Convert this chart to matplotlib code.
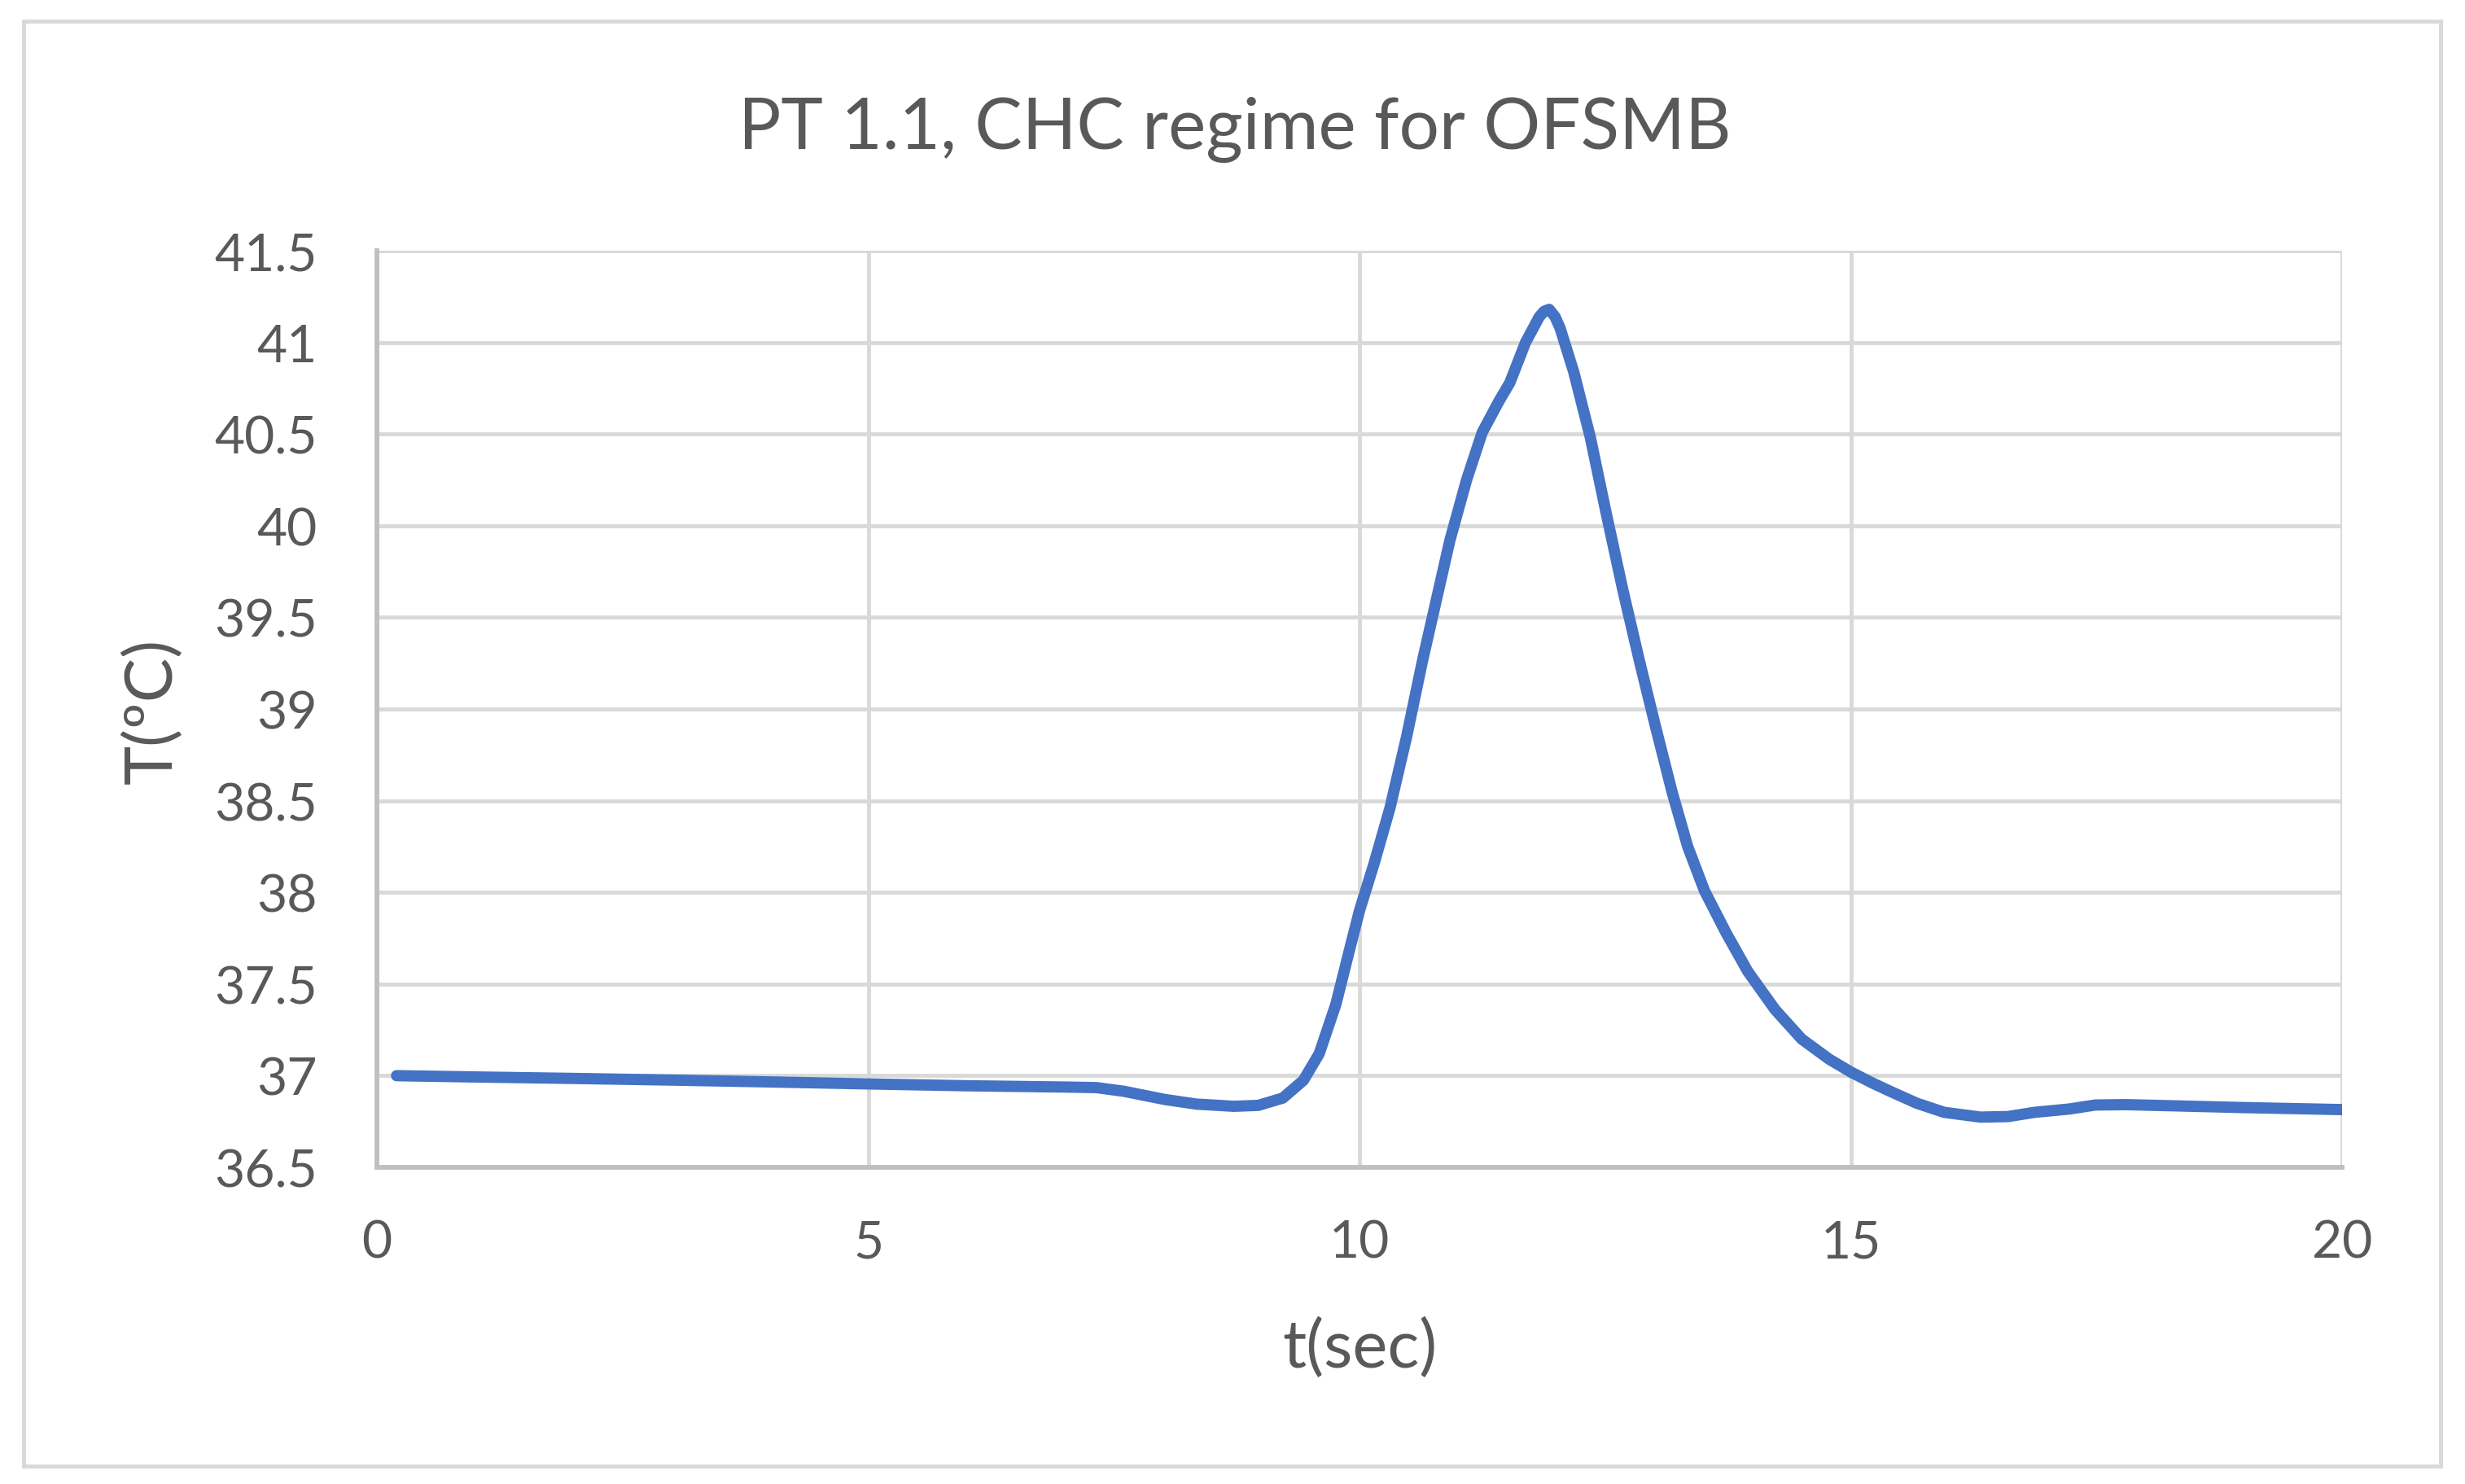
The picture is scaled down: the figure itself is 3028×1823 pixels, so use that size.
import matplotlib
matplotlib.use("Agg")
import matplotlib.pyplot as plt
from matplotlib.patches import Rectangle

plt.rcParams['font.family'] = ['Lato', 'DejaVu Sans']

# ---- data ----
t_sec = [0.2, 1, 2, 3, 4, 5, 6, 7, 7.32, 7.6, 8.02, 8.34, 8.72, 8.97, 9.22,
         9.43, 9.59, 9.76, 9.90, 10.0, 10.15, 10.31, 10.48, 10.64, 10.78, 10.92,
         11.09, 11.25, 11.42, 11.53, 11.69, 11.83, 11.88, 11.93, 11.99, 12.04,
         12.18, 12.35, 12.51, 12.68, 12.85, 13.01, 13.18, 13.34, 13.51, 13.73,
         13.95, 14.23, 14.50, 14.78, 15.0, 15.22, 15.40, 15.67, 15.95, 16.32,
         16.60, 16.87, 17.22, 17.49, 17.8, 18.25, 19, 20]
temp_c = [37.00, 36.993, 36.985, 36.976, 36.966, 36.955, 36.945, 36.938, 36.935,
          36.915, 36.87, 36.845, 36.833, 36.838, 36.878, 36.975, 37.12, 37.39,
          37.69, 37.90, 38.16, 38.46, 38.85, 39.26, 39.59, 39.92, 40.25, 40.51,
          40.68, 40.78, 41.00, 41.14, 41.17, 41.18, 41.14, 41.08, 40.84, 40.48,
          40.07, 39.65, 39.26, 38.91, 38.55, 38.25, 38.01, 37.78, 37.57, 37.36,
          37.20, 37.09, 37.02, 36.96, 36.915, 36.85, 36.80, 36.774, 36.777,
          36.80, 36.818, 36.84, 36.842, 36.836, 36.826, 36.815]
x_ticks = [0, 5, 10, 15, 20]
y_ticks = [36.5, 37, 37.5, 38, 38.5, 39, 39.5, 40, 40.5, 41, 41.5]
y_tick_labels = ['36.5', '37', '37.5', '38', '38.5', '39', '39.5', '40', '40.5', '41', '41.5']
title = 'PT 1.1, CHC regime for OFSMB'
x_label = 't(sec)'
y_label = 'T(ºC)'

TEXT = '#595959'
GRID = '#D9D9D9'
AXIS = '#BFBFBF'
LINE = '#4472C4'

W, H = 3028, 1824
fig = plt.figure(figsize=(W / 100, H / 100), dpi=100)
fig.patch.set_facecolor('white')

# outer chart border
fig.patches.append(Rectangle((29 / W, 1 - 1802 / H), (2998 - 29) / W, (1802 - 27) / H,
                             transform=fig.transFigure, fill=False,
                             edgecolor=GRID, linewidth=3.5))

L, R, T, B = 463, 2877, 309, 1435
ax = fig.add_axes([L / W, 1 - B / H, (R - L) / W, (B - T) / H])

renderer = fig.canvas.get_renderer()

def fitted_size(s, target_px, base=40):
    tmp = fig.text(0, 0, s, fontsize=base)
    w = tmp.get_window_extent(renderer).width
    tmp.remove()
    return base * target_px / w

tick_fs = fitted_size('41.5', 127)
lab_fs = fitted_size(x_label, 190)
title_fs = fitted_size(title, 1220)

ax.plot(t_sec, temp_c, color=LINE, linewidth=10, solid_joinstyle='round',
        solid_capstyle='round', zorder=3)

ax.set_xlim(0, 20)
ax.set_ylim(36.5, 41.5)
ax.set_xticks(x_ticks)
ax.set_xticklabels([str(v) for v in x_ticks])
ax.set_yticks(y_ticks)
ax.set_yticklabels(y_tick_labels)
ax.grid(True, color=GRID, linewidth=3.5, zorder=0)
ax.set_axisbelow(True)
for side in ['top', 'right']:
    ax.spines[side].set_visible(False)
for side in ['left', 'bottom']:
    ax.spines[side].set_color(AXIS)
    ax.spines[side].set_linewidth(4.2)
ax.tick_params(axis='x', length=0, pad=46, labelsize=tick_fs, labelcolor=TEXT)
ax.tick_params(axis='y', length=0, pad=53, labelsize=tick_fs, labelcolor=TEXT)

fig.text(1517 / W, 1 - 183 / H, title, ha='center', va='baseline',
         fontsize=title_fs, color=TEXT)
fig.text(1670 / W, 1 - 1656 / H, x_label, ha='center', va='center',
         fontsize=lab_fs, color=TEXT)
fig.text(187 / W, 1 - 873 / H, y_label, ha='center', va='center', rotation=90,
         fontsize=lab_fs, color=TEXT)

fig.savefig('out.png', dpi=100, facecolor='white')
